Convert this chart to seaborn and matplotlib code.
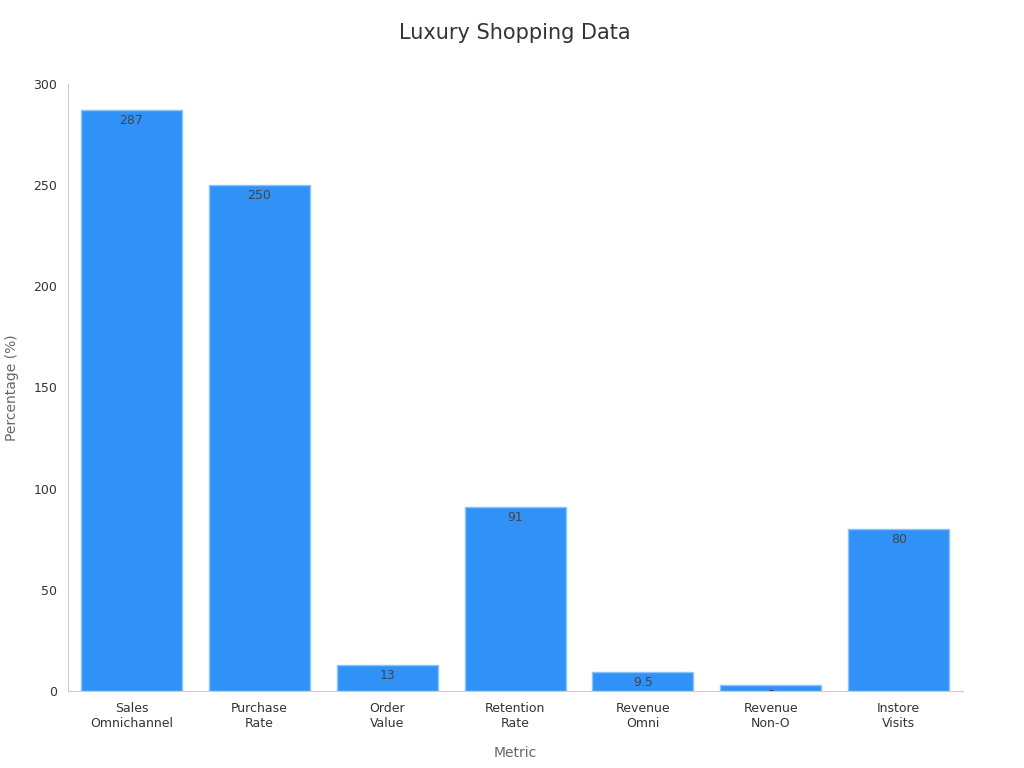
import matplotlib
matplotlib.use('Agg')
import matplotlib.pyplot as plt
import seaborn as sns
import pandas as pd

metrics = ['Sales\nOmnichannel', 'Purchase\nRate', 'Order\nValue', 'Retention\nRate',
           'Revenue\nOmni', 'Revenue\nNon-O', 'Instore\nVisits']
values = [287, 250, 13, 91, 9.5, 3, 80]
labels = ['287', '250', '13', '91', '9.5', '3', '80']

df = pd.DataFrame({'Metric': metrics, 'Value': values})

sns.set_style('white')
plt.rcParams['font.family'] = ['DejaVu Sans']

fig = plt.figure(figsize=(10.24, 7.68), dpi=100)
ax = fig.add_axes([0.066, 0.100, 0.874, 0.791])
sns.barplot(data=df, x='Metric', y='Value', color='#3092F7', saturation=1,
            edgecolor='#8cc2fa', linewidth=1, width=0.79, ax=ax)

# value labels sit just inside the top of each bar (clipped at the axis)
for i, (v, t) in enumerate(zip(values, labels)):
    ax.text(i, v - 5, t, ha='center', va='center', fontsize=9,
            color='#444444', clip_on=True)

ax.set_ylim(0, 300)
ax.set_xlim(-0.5, 6.5)
ax.set_title('Luxury Shopping Data', fontsize=15, color='#333333', pad=32)
ax.set_xlabel('Metric', fontsize=10, color='#666666', labelpad=12)
ax.set_ylabel('Percentage (%)', fontsize=10, color='#666666', labelpad=10)
ax.tick_params(axis='both', labelsize=9, colors='#333333', length=4, width=0.8)
ax.tick_params(axis='both', color='#555555')
for s in ['top', 'right']:
    ax.spines[s].set_visible(False)
for s in ['left', 'bottom']:
    ax.spines[s].set_color('#cccccc')

fig.savefig('out.png', dpi=100)
